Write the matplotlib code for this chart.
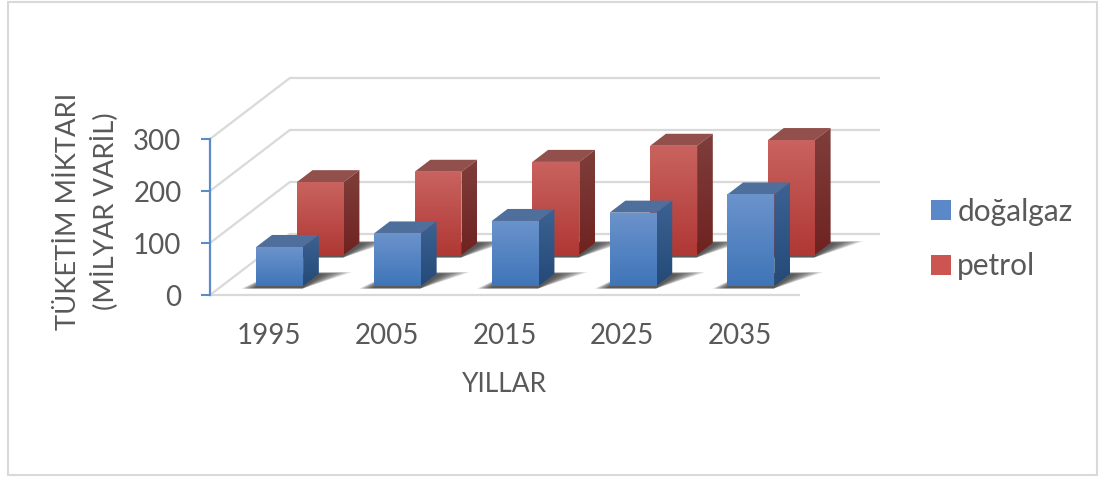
import numpy as np
import matplotlib
matplotlib.use("Agg")
import matplotlib.pyplot as plt
from matplotlib.patches import Polygon, Patch, Rectangle
from matplotlib.colors import LinearSegmentedColormap

years = ["1995", "2005", "2015", "2025", "2035"]
dogalgaz = [75, 101, 125, 141, 176]
petrol = [140, 160, 179, 210, 221]
y_ticks = [0, 100, 200, 300]

W, H = 1099, 478
plt.rcParams['font.family'] = ['Lato', 'DejaVu Sans']
TXT = '#595959'
fig = plt.figure(figsize=(W / 100, H / 100), dpi=100, facecolor='white')
fig.add_artist(Rectangle((7.5 / W, 1 - 475 / H), 1089.5 / W, 473 / H, transform=fig.transFigure,
                         fc='none', ec='#d9d9d9', lw=1.5, zorder=-1))
ax = fig.add_axes([210 / W, 1 - 295 / H, 589 / W, 156 / H], facecolor='none')

# oblique projection: depth 0..1 maps to an offset in data units
DX = 80 / 118
DY = 61 / 0.52


def proj(x, v, z):
    return (x + z * DX, v + z * DY)


def face(points, top, bottom, zorder):
    pts = np.array(points)
    poly = Polygon(pts, closed=True, fc='none', ec='none', zorder=zorder, clip_on=False)
    ax.add_patch(poly)
    cmap = LinearSegmentedColormap.from_list('g', [top, bottom])
    im = ax.imshow(np.linspace(0, 1, 64)[:, None], cmap=cmap, aspect='auto', zorder=zorder,
                   extent=(pts[:, 0].min(), pts[:, 0].max(), pts[:, 1].min(), pts[:, 1].max()),
                   origin='upper', interpolation='bilinear')
    im.set_clip_box(fig.bbox)
    im.set_clip_path(poly)


def shadow(x0, x1, z0, z1, zorder):
    for s in np.linspace(1, 0.1, 10):
        pts = [proj(x0 - 0.12 * s, -4, z0 - 0.01 * s),
               proj(x1, -4, z0 - 0.01 * s),
               proj(x1 + 0.24 * s + 0.02, 0, z1 + 0.03 * s),
               proj(x1 - 0.03, 0, z1 + 0.03 * s),
               proj(x0, 0, z1)]
        ax.add_patch(Polygon(pts, closed=True, fc='#202020', ec='none', alpha=0.12, zorder=zorder,
                             clip_on=False))


def bar3d(i, value, z0, z1, cols, zorder):
    x0 = i + 0.292
    x1 = x0 + 0.398
    shadow(x0, x1, z0, z1, zorder - 0.5)
    face([proj(x0, value, z0), proj(x1, value, z0), proj(x1, value, z1), proj(x0, value, z1)],
         cols['top'], cols['top'], zorder)
    face([proj(x1, 0, z0), proj(x1, value, z0), proj(x1, value, z1), proj(x1, 0, z1)],
         cols['side_t'], cols['side_b'], zorder)
    face([proj(x0, 0, z0), proj(x1, 0, z0), proj(x1, value, z0), proj(x0, value, z0)],
         cols['front_t'], cols['front_b'], zorder)


BLUE = dict(top='#4f6f9c', side_t='#3b6293', side_b='#254a78', front_t='#6b93cc', front_b='#3f75b8')
RED = dict(top='#92504c', side_t='#7f3e3b', side_b='#6f2321', front_t='#c9635f', front_b='#b03835')

# gridlines on the side wall and the back wall
n = len(years)
for v in y_ticks:
    xs = [0, proj(0, v, 1)[0], proj(n, v, 1)[0]]
    ys = [v, proj(0, v, 1)[1], proj(n, v, 1)[1]]
    ax.plot(xs, ys, color='#d9d9d9', lw=1.6, clip_on=False, zorder=1, solid_joinstyle='miter')
ax.plot([0, n], [0, 0], color='#d9d9d9', lw=1.6, clip_on=False, zorder=1)

for i, v in enumerate(petrol):
    bar3d(i, v, 0.656, 0.853, RED, 3)
for i, v in enumerate(dogalgaz):
    bar3d(i, v, 0.148, 0.345, BLUE, 5)

ax.set_xlim(0, n)
ax.set_ylim(0, 300)
ax.set_xticks(np.arange(n) + 0.5, years)
ax.set_yticks(y_ticks)
ax.tick_params(axis='x', length=0, pad=20.5, labelsize=20, labelcolor=TXT)
ax.tick_params(axis='y', length=6.5, width=1.5, color='#5b8cc8', pad=14, labelsize=20, labelcolor=TXT)
for s in ['top', 'right', 'bottom']:
    ax.spines[s].set_visible(False)
ax.spines['left'].set_color('#5b8cc8')
ax.spines['left'].set_linewidth(1.6)

fig.text(504 / W, 1 - 384 / H, 'YILLAR', ha='center', va='center', fontsize=19, color=TXT)
fig.text(87 / W, 1 - 211 / H, 'TÜKETİM MİKTARI\n(MİLYAR VARİL)', rotation=90, ha='center', va='center',
         fontsize=19.7, color=TXT, linespacing=1.4, multialignment='center')

handles = [Patch(fc='#5b88c8', ec='none', label='doğalgaz'), Patch(fc='#cc5552', ec='none', label='petrol')]
fig.legend(handles=handles, loc='center left', bbox_to_anchor=(931 / W, 1 - 239 / H), frameon=False,
           fontsize=21.5, labelcolor=TXT, handlelength=0.66, handleheight=0.66, handletextpad=0.22,
           labelspacing=0.88, borderpad=0, borderaxespad=0)
fig.savefig('out.png', dpi=100)
